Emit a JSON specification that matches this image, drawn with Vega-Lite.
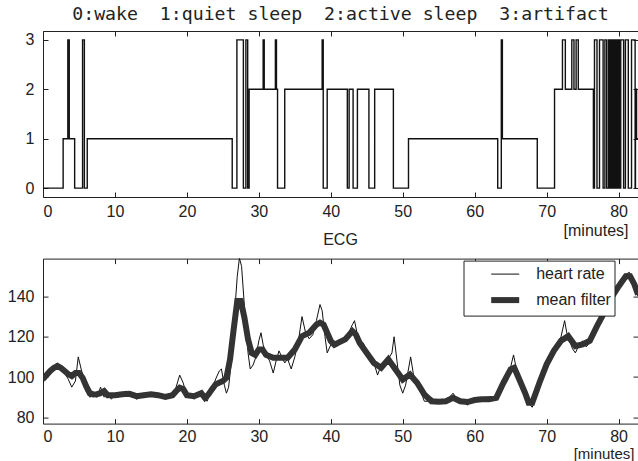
{
  "$schema": "https://vega.github.io/schema/vega-lite/v6.json",
  "background": "white",
  "padding": {"left": 6, "top": 4, "right": 0, "bottom": 1},
  "bounds": "flush",
  "spacing": 61.6,
  "resolve": {"legend": {"color": "independent", "strokeWidth": "independent"}},
  "config": {
    "font": "Liberation Sans",
    "view": {"stroke": "#222", "strokeWidth": 1},
    "axis": {"labelFont": "Liberation Sans", "labelFontSize": 16, "labelColor": "#222", "tickColor": "#222", "tickSize": -5, "domain": false, "grid": false, "titleFont": "Liberation Sans", "titleFontSize": 16, "titleFontWeight": "normal", "titleColor": "#222"},
    "axisX": {"labelPadding": 11},
    "axisY": {"labelPadding": 14}
  },
  "datasets": {
    "states": [
      {"t": 0, "s": 0}, {"t": 2.8, "s": 1}, {"t": 3.45, "s": 3}, {"t": 3.65, "s": 1}, {"t": 4.4, "s": 0}, {"t": 5.5, "s": 3}, {"t": 5.75, "s": 0}, {"t": 6.15, "s": 1},
      {"t": 26.3, "s": 0}, {"t": 26.95, "s": 3}, {"t": 27.85, "s": 0}, {"t": 28.2, "s": 3}, {"t": 28.45, "s": 0}, {"t": 28.65, "s": 2}, {"t": 30.6, "s": 3}, {"t": 30.75, "s": 2},
      {"t": 32.3, "s": 3}, {"t": 32.45, "s": 2}, {"t": 32.6, "s": 0}, {"t": 33.6, "s": 2}, {"t": 38.8, "s": 3}, {"t": 38.95, "s": 0}, {"t": 39.5, "s": 2},
      {"t": 42.3, "s": 0}, {"t": 42.55, "s": 2}, {"t": 43.1, "s": 0}, {"t": 43.7, "s": 2}, {"t": 45.3, "s": 0}, {"t": 46.1, "s": 2}, {"t": 48.7, "s": 0}, {"t": 50.8, "s": 1},
      {"t": 63.2, "s": 0}, {"t": 63.7, "s": 3}, {"t": 63.85, "s": 1}, {"t": 68.7, "s": 0}, {"t": 71.1, "s": 2}, {"t": 72.2, "s": 3}, {"t": 72.6, "s": 2}, {"t": 73.5, "s": 3}, {"t": 73.8, "s": 2}, {"t": 74.1, "s": 3}, {"t": 74.4, "s": 2},
      {"t": 76.5, "s": 0}, {"t": 76.65, "s": 3}, {"t": 77.0, "s": 0}, {"t": 77.35, "s": 3}, {"t": 77.85, "s": 0}, {"t": 78.1, "s": 3}, {"t": 78.35, "s": 0}, {"t": 78.6, "s": 3}, {"t": 78.75, "s": 0}, {"t": 78.85, "s": 3},
      {"t": 79.0, "s": 0}, {"t": 79.1, "s": 3}, {"t": 79.25, "s": 0}, {"t": 79.4, "s": 3}, {"t": 79.5, "s": 0}, {"t": 79.55, "s": 3}, {"t": 79.65, "s": 0}, {"t": 79.7, "s": 3}, {"t": 79.8, "s": 0}, {"t": 79.85, "s": 3},
      {"t": 79.95, "s": 0}, {"t": 80.0, "s": 3}, {"t": 80.1, "s": 0}, {"t": 80.3, "s": 3}, {"t": 80.7, "s": 0}, {"t": 80.95, "s": 3}, {"t": 81.35, "s": 0}, {"t": 81.8, "s": 3}, {"t": 82.3, "s": 0}, {"t": 82.35, "s": 2}, {"t": 82.5, "s": 1}, {"t": 82.7, "s": 1}
    ],
    "hr": [
      {"series": "heart rate", "t": 0, "v": 97}, {"series": "heart rate", "t": 0.5, "v": 101}, {"series": "heart rate", "t": 1, "v": 103}, {"series": "heart rate", "t": 1.5, "v": 104}, {"series": "heart rate", "t": 2, "v": 107}, {"series": "heart rate", "t": 2.5, "v": 104}, {"series": "heart rate", "t": 3, "v": 102}, {"series": "heart rate", "t": 3.5, "v": 99}, {"series": "heart rate", "t": 4, "v": 95}, {"series": "heart rate", "t": 4.5, "v": 98},
      {"series": "heart rate", "t": 4.9, "v": 110}, {"series": "heart rate", "t": 5.3, "v": 104}, {"series": "heart rate", "t": 5.7, "v": 99}, {"series": "heart rate", "t": 6, "v": 93}, {"series": "heart rate", "t": 6.5, "v": 90}, {"series": "heart rate", "t": 7, "v": 91}, {"series": "heart rate", "t": 7.5, "v": 90}, {"series": "heart rate", "t": 8, "v": 95}, {"series": "heart rate", "t": 8.5, "v": 90}, {"series": "heart rate", "t": 9, "v": 92},
      {"series": "heart rate", "t": 9.5, "v": 89}, {"series": "heart rate", "t": 10, "v": 91}, {"series": "heart rate", "t": 10.5, "v": 90}, {"series": "heart rate", "t": 11, "v": 92}, {"series": "heart rate", "t": 11.5, "v": 93}, {"series": "heart rate", "t": 12, "v": 91}, {"series": "heart rate", "t": 12.5, "v": 92}, {"series": "heart rate", "t": 13, "v": 89}, {"series": "heart rate", "t": 13.5, "v": 90}, {"series": "heart rate", "t": 14, "v": 92},
      {"series": "heart rate", "t": 14.5, "v": 91}, {"series": "heart rate", "t": 15, "v": 92}, {"series": "heart rate", "t": 15.5, "v": 91}, {"series": "heart rate", "t": 16, "v": 90}, {"series": "heart rate", "t": 16.5, "v": 92}, {"series": "heart rate", "t": 17, "v": 89}, {"series": "heart rate", "t": 17.5, "v": 90}, {"series": "heart rate", "t": 18, "v": 90}, {"series": "heart rate", "t": 18.5, "v": 95}, {"series": "heart rate", "t": 19, "v": 101},
      {"series": "heart rate", "t": 19.5, "v": 97}, {"series": "heart rate", "t": 20, "v": 90}, {"series": "heart rate", "t": 20.5, "v": 91}, {"series": "heart rate", "t": 21, "v": 89}, {"series": "heart rate", "t": 21.5, "v": 92}, {"series": "heart rate", "t": 22, "v": 93}, {"series": "heart rate", "t": 22.4, "v": 91}, {"series": "heart rate", "t": 22.8, "v": 88}, {"series": "heart rate", "t": 23.3, "v": 92}, {"series": "heart rate", "t": 24, "v": 99},
      {"series": "heart rate", "t": 24.5, "v": 103}, {"series": "heart rate", "t": 24.8, "v": 104}, {"series": "heart rate", "t": 25.2, "v": 96}, {"series": "heart rate", "t": 25.5, "v": 92}, {"series": "heart rate", "t": 25.8, "v": 95}, {"series": "heart rate", "t": 26.1, "v": 105}, {"series": "heart rate", "t": 26.5, "v": 125}, {"series": "heart rate", "t": 27, "v": 150}, {"series": "heart rate", "t": 27.3, "v": 159}, {"series": "heart rate", "t": 27.6, "v": 155},
      {"series": "heart rate", "t": 28, "v": 135}, {"series": "heart rate", "t": 28.5, "v": 112}, {"series": "heart rate", "t": 28.8, "v": 104}, {"series": "heart rate", "t": 29.2, "v": 106}, {"series": "heart rate", "t": 29.6, "v": 110}, {"series": "heart rate", "t": 30, "v": 118}, {"series": "heart rate", "t": 30.3, "v": 122}, {"series": "heart rate", "t": 30.6, "v": 116}, {"series": "heart rate", "t": 31, "v": 111}, {"series": "heart rate", "t": 31.5, "v": 108},
      {"series": "heart rate", "t": 32, "v": 102}, {"series": "heart rate", "t": 32.4, "v": 108}, {"series": "heart rate", "t": 32.8, "v": 113}, {"series": "heart rate", "t": 33.2, "v": 110}, {"series": "heart rate", "t": 33.6, "v": 107}, {"series": "heart rate", "t": 34, "v": 109}, {"series": "heart rate", "t": 34.5, "v": 104}, {"series": "heart rate", "t": 35, "v": 110}, {"series": "heart rate", "t": 35.5, "v": 118}, {"series": "heart rate", "t": 36, "v": 130},
      {"series": "heart rate", "t": 36.5, "v": 122}, {"series": "heart rate", "t": 37, "v": 119}, {"series": "heart rate", "t": 37.5, "v": 121}, {"series": "heart rate", "t": 38, "v": 128}, {"series": "heart rate", "t": 38.5, "v": 136}, {"series": "heart rate", "t": 38.8, "v": 133}, {"series": "heart rate", "t": 39.2, "v": 120}, {"series": "heart rate", "t": 39.5, "v": 112}, {"series": "heart rate", "t": 40, "v": 116}, {"series": "heart rate", "t": 40.5, "v": 118},
      {"series": "heart rate", "t": 41, "v": 116}, {"series": "heart rate", "t": 41.5, "v": 119}, {"series": "heart rate", "t": 42, "v": 120}, {"series": "heart rate", "t": 42.5, "v": 122}, {"series": "heart rate", "t": 43, "v": 126}, {"series": "heart rate", "t": 43.3, "v": 128}, {"series": "heart rate", "t": 43.7, "v": 121}, {"series": "heart rate", "t": 44, "v": 118}, {"series": "heart rate", "t": 44.5, "v": 117}, {"series": "heart rate", "t": 45, "v": 113},
      {"series": "heart rate", "t": 45.5, "v": 110}, {"series": "heart rate", "t": 46, "v": 107}, {"series": "heart rate", "t": 46.5, "v": 101}, {"series": "heart rate", "t": 47, "v": 106}, {"series": "heart rate", "t": 47.5, "v": 107}, {"series": "heart rate", "t": 48, "v": 109}, {"series": "heart rate", "t": 48.5, "v": 112}, {"series": "heart rate", "t": 48.8, "v": 120}, {"series": "heart rate", "t": 49.2, "v": 108}, {"series": "heart rate", "t": 49.6, "v": 96},
      {"series": "heart rate", "t": 50, "v": 92}, {"series": "heart rate", "t": 50.4, "v": 96}, {"series": "heart rate", "t": 50.8, "v": 104}, {"series": "heart rate", "t": 51.1, "v": 110}, {"series": "heart rate", "t": 51.5, "v": 101}, {"series": "heart rate", "t": 52, "v": 97}, {"series": "heart rate", "t": 52.5, "v": 93}, {"series": "heart rate", "t": 53, "v": 88}, {"series": "heart rate", "t": 53.5, "v": 88}, {"series": "heart rate", "t": 54, "v": 90},
      {"series": "heart rate", "t": 54.5, "v": 88}, {"series": "heart rate", "t": 55, "v": 87}, {"series": "heart rate", "t": 55.5, "v": 89}, {"series": "heart rate", "t": 56, "v": 88}, {"series": "heart rate", "t": 56.5, "v": 90}, {"series": "heart rate", "t": 57, "v": 92}, {"series": "heart rate", "t": 57.5, "v": 89}, {"series": "heart rate", "t": 58, "v": 87}, {"series": "heart rate", "t": 58.5, "v": 88}, {"series": "heart rate", "t": 59, "v": 86},
      {"series": "heart rate", "t": 59.5, "v": 89}, {"series": "heart rate", "t": 60, "v": 89}, {"series": "heart rate", "t": 60.5, "v": 90}, {"series": "heart rate", "t": 61, "v": 89}, {"series": "heart rate", "t": 61.5, "v": 90}, {"series": "heart rate", "t": 62, "v": 90}, {"series": "heart rate", "t": 62.5, "v": 89}, {"series": "heart rate", "t": 63, "v": 90}, {"series": "heart rate", "t": 63.5, "v": 93}, {"series": "heart rate", "t": 64, "v": 98},
      {"series": "heart rate", "t": 64.5, "v": 102}, {"series": "heart rate", "t": 65, "v": 105}, {"series": "heart rate", "t": 65.4, "v": 111}, {"series": "heart rate", "t": 65.8, "v": 104}, {"series": "heart rate", "t": 66.2, "v": 99}, {"series": "heart rate", "t": 66.7, "v": 94}, {"series": "heart rate", "t": 67, "v": 91}, {"series": "heart rate", "t": 67.5, "v": 87}, {"series": "heart rate", "t": 68, "v": 85}, {"series": "heart rate", "t": 68.5, "v": 90},
      {"series": "heart rate", "t": 69, "v": 96}, {"series": "heart rate", "t": 69.5, "v": 101}, {"series": "heart rate", "t": 70, "v": 105}, {"series": "heart rate", "t": 70.5, "v": 109}, {"series": "heart rate", "t": 71, "v": 114}, {"series": "heart rate", "t": 71.5, "v": 117}, {"series": "heart rate", "t": 72, "v": 120}, {"series": "heart rate", "t": 72.5, "v": 128}, {"series": "heart rate", "t": 72.8, "v": 122}, {"series": "heart rate", "t": 73.2, "v": 118},
      {"series": "heart rate", "t": 73.6, "v": 114}, {"series": "heart rate", "t": 74, "v": 112}, {"series": "heart rate", "t": 74.5, "v": 116}, {"series": "heart rate", "t": 75, "v": 118}, {"series": "heart rate", "t": 75.5, "v": 115}, {"series": "heart rate", "t": 76, "v": 117}, {"series": "heart rate", "t": 76.5, "v": 120}, {"series": "heart rate", "t": 77, "v": 124}, {"series": "heart rate", "t": 77.5, "v": 128}, {"series": "heart rate", "t": 78, "v": 133},
      {"series": "heart rate", "t": 78.5, "v": 137}, {"series": "heart rate", "t": 79, "v": 140}, {"series": "heart rate", "t": 79.5, "v": 143}, {"series": "heart rate", "t": 80, "v": 146}, {"series": "heart rate", "t": 80.5, "v": 148}, {"series": "heart rate", "t": 81, "v": 151}, {"series": "heart rate", "t": 81.5, "v": 152}, {"series": "heart rate", "t": 82, "v": 146}, {"series": "heart rate", "t": 82.7, "v": 140},
      {"series": "mean filter", "t": 0, "v": 99}, {"series": "mean filter", "t": 0.5, "v": 101}, {"series": "mean filter", "t": 1, "v": 103}, {"series": "mean filter", "t": 1.5, "v": 104.5}, {"series": "mean filter", "t": 2, "v": 105.5}, {"series": "mean filter", "t": 2.5, "v": 104.5}, {"series": "mean filter", "t": 3, "v": 103}, {"series": "mean filter", "t": 3.5, "v": 101.5}, {"series": "mean filter", "t": 4, "v": 100.5}, {"series": "mean filter", "t": 4.5, "v": 102},
      {"series": "mean filter", "t": 5, "v": 102}, {"series": "mean filter", "t": 5.5, "v": 99.7}, {"series": "mean filter", "t": 6, "v": 95.5}, {"series": "mean filter", "t": 6.5, "v": 92}, {"series": "mean filter", "t": 7, "v": 91.4}, {"series": "mean filter", "t": 7.5, "v": 91.5}, {"series": "mean filter", "t": 8, "v": 92}, {"series": "mean filter", "t": 8.5, "v": 93}, {"series": "mean filter", "t": 9, "v": 91}, {"series": "mean filter", "t": 10, "v": 91},
      {"series": "mean filter", "t": 11, "v": 91.5}, {"series": "mean filter", "t": 12, "v": 91.7}, {"series": "mean filter", "t": 13, "v": 90.5}, {"series": "mean filter", "t": 14, "v": 91}, {"series": "mean filter", "t": 15, "v": 91.4}, {"series": "mean filter", "t": 16, "v": 91}, {"series": "mean filter", "t": 17, "v": 90.2}, {"series": "mean filter", "t": 18, "v": 91}, {"series": "mean filter", "t": 18.5, "v": 93}, {"series": "mean filter", "t": 19, "v": 94.7},
      {"series": "mean filter", "t": 19.5, "v": 94}, {"series": "mean filter", "t": 20, "v": 91}, {"series": "mean filter", "t": 21, "v": 90.5}, {"series": "mean filter", "t": 22, "v": 92}, {"series": "mean filter", "t": 22.5, "v": 89.7}, {"series": "mean filter", "t": 23, "v": 91.4}, {"series": "mean filter", "t": 23.5, "v": 94}, {"series": "mean filter", "t": 24, "v": 96.4}, {"series": "mean filter", "t": 25, "v": 98}, {"series": "mean filter", "t": 25.5, "v": 99.7},
      {"series": "mean filter", "t": 26, "v": 108.8}, {"series": "mean filter", "t": 26.5, "v": 123.7}, {"series": "mean filter", "t": 27, "v": 137.7}, {"series": "mean filter", "t": 27.5, "v": 137.7}, {"series": "mean filter", "t": 28, "v": 129.4}, {"series": "mean filter", "t": 28.5, "v": 118.7}, {"series": "mean filter", "t": 29, "v": 112}, {"series": "mean filter", "t": 29.5, "v": 111}, {"series": "mean filter", "t": 30, "v": 113.7}, {"series": "mean filter", "t": 30.5, "v": 113.7},
      {"series": "mean filter", "t": 31, "v": 111}, {"series": "mean filter", "t": 32, "v": 109.6}, {"series": "mean filter", "t": 33, "v": 109.6}, {"series": "mean filter", "t": 34, "v": 109.6}, {"series": "mean filter", "t": 35, "v": 113.7}, {"series": "mean filter", "t": 36, "v": 120.3}, {"series": "mean filter", "t": 37, "v": 122}, {"series": "mean filter", "t": 38, "v": 126}, {"series": "mean filter", "t": 38.5, "v": 127}, {"series": "mean filter", "t": 39, "v": 126},
      {"series": "mean filter", "t": 39.5, "v": 122}, {"series": "mean filter", "t": 40, "v": 117.9}, {"series": "mean filter", "t": 40.5, "v": 116}, {"series": "mean filter", "t": 41, "v": 117}, {"series": "mean filter", "t": 42, "v": 118.7}, {"series": "mean filter", "t": 43, "v": 122.8}, {"series": "mean filter", "t": 43.5, "v": 121}, {"series": "mean filter", "t": 44, "v": 117}, {"series": "mean filter", "t": 45, "v": 112}, {"series": "mean filter", "t": 46, "v": 107},
      {"series": "mean filter", "t": 47, "v": 104.6}, {"series": "mean filter", "t": 48, "v": 108.8}, {"series": "mean filter", "t": 49, "v": 103.8}, {"series": "mean filter", "t": 50, "v": 98.8}, {"series": "mean filter", "t": 51, "v": 101.3}, {"series": "mean filter", "t": 52, "v": 97.2}, {"series": "mean filter", "t": 53, "v": 91.4}, {"series": "mean filter", "t": 54, "v": 88}, {"series": "mean filter", "t": 55, "v": 87.8}, {"series": "mean filter", "t": 56, "v": 88},
      {"series": "mean filter", "t": 57, "v": 89.7}, {"series": "mean filter", "t": 58, "v": 88}, {"series": "mean filter", "t": 59, "v": 87.6}, {"series": "mean filter", "t": 60, "v": 88.6}, {"series": "mean filter", "t": 61, "v": 89}, {"series": "mean filter", "t": 62, "v": 89}, {"series": "mean filter", "t": 63, "v": 89.7}, {"series": "mean filter", "t": 64, "v": 97.2}, {"series": "mean filter", "t": 65, "v": 103.8}, {"series": "mean filter", "t": 65.5, "v": 104.6},
      {"series": "mean filter", "t": 66, "v": 100.5}, {"series": "mean filter", "t": 67, "v": 92.2}, {"series": "mean filter", "t": 67.5, "v": 87.3}, {"series": "mean filter", "t": 68, "v": 87.3}, {"series": "mean filter", "t": 69, "v": 97.2}, {"series": "mean filter", "t": 70, "v": 106.3}, {"series": "mean filter", "t": 71, "v": 113}, {"series": "mean filter", "t": 72, "v": 118}, {"series": "mean filter", "t": 73, "v": 120.3}, {"series": "mean filter", "t": 74, "v": 115.4},
      {"series": "mean filter", "t": 75, "v": 116.2}, {"series": "mean filter", "t": 76, "v": 118}, {"series": "mean filter", "t": 77, "v": 125.3}, {"series": "mean filter", "t": 78, "v": 132}, {"series": "mean filter", "t": 79, "v": 139.4}, {"series": "mean filter", "t": 80, "v": 145}, {"series": "mean filter", "t": 81, "v": 150}, {"series": "mean filter", "t": 81.6, "v": 150}, {"series": "mean filter", "t": 82.2, "v": 146}, {"series": "mean filter", "t": 82.7, "v": 141}
    ]
  },
  "vconcat": [
    {
      "width": 595,
      "height": 166,
      "title": {"text": "0:wake\u00a0 1:quiet sleep\u00a0 2:active sleep\u00a0 3:artifact", "font": "DejaVu Sans Mono", "fontSize": 18.2, "fontWeight": "normal", "color": "#222", "offset": 6},
      "data": {"name": "states"},
      "layer": [
        {
          "mark": {"type": "line", "interpolate": "step-after", "color": "#111", "strokeWidth": 1.4, "clip": true},
          "encoding": {
            "x": {"field": "t", "type": "quantitative", "scale": {"domain": [0, 82.7], "nice": false, "zero": false},
                  "axis": {"values": [0, 10, 20, 30, 40, 50, 60, 70, 80], "title": "[minutes]", "titleAlign": "right", "titleBaseline": "middle", "titleX": 585, "titleY": 33}},
            "y": {"field": "s", "type": "quantitative", "scale": {"domain": [-0.18, 3.18], "nice": false, "zero": false},
                  "axis": {"values": [0, 1, 2, 3], "title": null}}
          }
        },
        {
          "mark": {"type": "line", "strokeOpacity": 0},
          "encoding": {
            "x": {"field": "t", "type": "quantitative", "axis": {"orient": "top", "values": [0, 10, 20, 30, 40, 50, 60, 70, 80], "labels": false, "title": null}},
            "y": {"field": "s", "type": "quantitative", "axis": {"orient": "right", "values": [0, 1, 2, 3], "labels": false, "title": null}}
          }
        }
      ],
      "resolve": {"axis": {"x": "independent", "y": "independent"}}
    },
    {
      "width": 595,
      "height": 165,
      "title": {"text": "ECG", "font": "Liberation Sans", "fontSize": 16, "fontWeight": "normal", "color": "#222", "offset": 10},
      "data": {"name": "hr"},
      "layer": [
        {
          "mark": {"type": "line", "clip": true},
          "encoding": {
            "x": {"field": "t", "type": "quantitative", "scale": {"domain": [0, 82.7], "nice": false, "zero": false},
                  "axis": {"values": [0, 10, 20, 30, 40, 50, 60, 70, 80], "labelPadding": 10, "title": "[minutes]", "titleAlign": "right", "titleBaseline": "bottom", "titleFontSize": 15, "titleX": 591, "titleY": 38}},
            "y": {"field": "v", "type": "quantitative", "scale": {"domain": [76.9, 158.8], "nice": false, "zero": false},
                  "axis": {"values": [80, 100, 120, 140], "title": null}},
            "color": {"field": "series", "type": "nominal", "scale": {"domain": ["heart rate", "mean filter"], "range": ["#111", "#333"]},
                      "legend": {"orient": "none", "legendX": 420.5, "legendY": 2, "title": null, "symbolType": "M-1.4,0H1.4", "symbolSize": 400, "labelFontSize": 16, "labelFont": "Liberation Sans", "labelColor": "#222", "strokeColor": "#222", "fillColor": "white", "padding": 3, "rowPadding": 4.5, "labelOffset": 18, "symbolOffset": 25.7}},
            "strokeWidth": {"field": "series", "type": "nominal", "scale": {"domain": ["heart rate", "mean filter"], "range": [1, 6]},
                      "legend": {"orient": "none", "legendX": 420.5, "legendY": 2, "title": null, "symbolType": "M-1.4,0H1.4", "symbolSize": 400, "labelFontSize": 16, "labelFont": "Liberation Sans", "labelColor": "#222", "strokeColor": "#222", "fillColor": "white", "padding": 3, "rowPadding": 4.5, "labelOffset": 18, "symbolOffset": 25.7}},
            "order": {"field": "t", "type": "quantitative"}
          }
        },
        {
          "mark": {"type": "line", "strokeOpacity": 0},
          "encoding": {
            "x": {"field": "t", "type": "quantitative", "axis": {"orient": "top", "values": [0, 10, 20, 30, 40, 50, 60, 70, 80], "labels": false, "title": null}},
            "y": {"field": "v", "type": "quantitative", "axis": {"orient": "right", "values": [80, 100, 120, 140], "labels": false, "title": null}},
            "detail": {"field": "series", "type": "nominal"}
          }
        }
      ],
      "resolve": {"axis": {"x": "independent", "y": "independent"}}
    }
  ]
}
